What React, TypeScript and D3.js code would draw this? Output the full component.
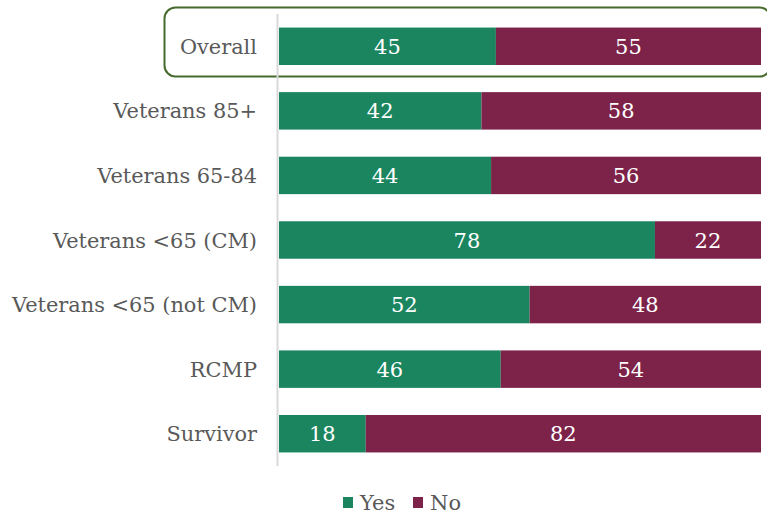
import React from "react";
import * as d3 from "d3";

const categories = ["Overall", "Veterans 85+", "Veterans 65-84", "Veterans <65 (CM)", "Veterans <65 (not CM)", "RCMP", "Survivor"];
const yesValues = [45, 42, 44, 78, 52, 46, 18];
const noValues = [55, 58, 56, 22, 48, 54, 82];
const seriesNames = ["Yes", "No"];
const seriesColors = ["#1a855f", "#7d2349"];

const W = 767;
const H = 514;
const FONT = "'DejaVu Serif', serif";

export default function App() {
  const x = d3.scaleLinear().domain([0, 100]).range([279, 761]);
  const y = d3.scaleBand<string>().domain(categories).range([14, 466]).paddingInner(0.42).paddingOuter(0.21);
  const rows = categories.map((c, i) => ({ c, yes: yesValues[i], no: noValues[i] }));
  const stack = d3.stack<any>().keys(["yes", "no"])(rows as any);

  return (
    <svg width={W} height={H} style={{ position: "absolute", left: 0, top: 0 }} fontFamily={FONT}>
      <rect x={0} y={0} width={W} height={H} fill="#ffffff" />
      <rect x={164.5} y={7.5} width={606} height={69} rx={11} fill="none" stroke="#456a2c" strokeWidth={2} />
      {stack.map((s, si) => (
        <g key={si}>
          {s.map((d, i) => {
            const x0 = x(d[0]);
            const x1 = x(d[1]);
            const yy = y(categories[i])!;
            return (
              <g key={i}>
                <rect x={x0} y={yy} width={x1 - x0} height={y.bandwidth()} fill={seriesColors[si]} />
                <text x={(x0 + x1) / 2} y={yy + y.bandwidth() / 2} dy="0.36em" textAnchor="middle" fill="#ffffff" fontSize={21}>
                  {d[1] - d[0]}
                </text>
              </g>
            );
          })}
        </g>
      ))}
      <line x1={277.5} x2={277.5} y1={14} y2={466} stroke="#d9d9d9" strokeWidth={2} />
      {categories.map((c) => (
        <text key={c} x={257} y={y(c)! + y.bandwidth() / 2} dy="0.36em" textAnchor="end" fill="#595959" fontSize={20.9}>
          {c}
        </text>
      ))}
      <g>
        <rect x={343} y={497} width={10} height={11} fill={seriesColors[0]} />
        <text x={360} y={502.5} dy="0.36em" fill="#595959" fontSize={21}>{seriesNames[0]}</text>
        <rect x={413} y={497} width={10} height={11} fill={seriesColors[1]} />
        <text x={430} y={502.5} dy="0.36em" fill="#595959" fontSize={21}>{seriesNames[1]}</text>
      </g>
    </svg>
  );
}
